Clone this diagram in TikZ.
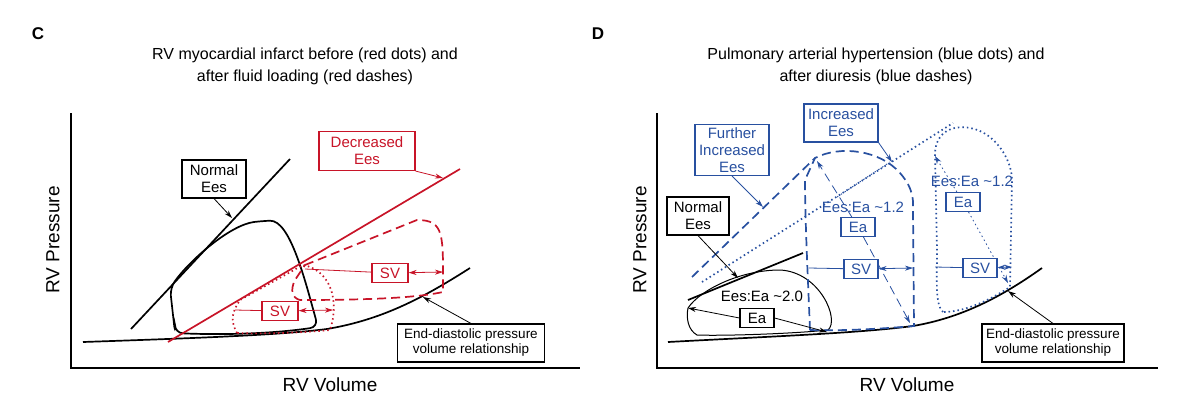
\documentclass[tikz,border=0pt]{standalone}
\usepackage{fontspec}
\setmainfont{Liberation Sans}
\usetikzlibrary{arrows.meta}
\definecolor{myred}{RGB}{200,20,40}
\definecolor{myblue}{RGB}{40,80,160}
\begin{document}
\begin{tikzpicture}[x=1pt,y=-1pt,
  box/.style={draw,line width=1.1pt,fill=white,align=center,font=\fontsize{15}{17}\selectfont,inner sep=1pt},
  rbox/.style={box,draw=myred,text=myred},
  bbox/.style={box,draw=myblue,text=myblue},
  sz/.style 2 args={minimum width=#1pt,minimum height=#2pt},
  lab/.style={font=\fontsize{15}{17}\selectfont},
  ttl/.style={font=\fontsize{16}{22}\selectfont,align=center},
  ax/.style={font=\fontsize{19}{20}\selectfont},
  main/.style={line width=1.7pt},
  ds/.style={dash pattern=on 9pt off 5pt},
  dt/.style={dash pattern=on 1.5pt off 3pt},
  arr/.style={-{Stealth[length=8pt,width=5pt]},line width=0.8pt},
  darr/.style={{Stealth[length=8pt,width=5pt]}-{Stealth[length=8pt,width=5pt]},line width=0.8pt}]
\useasboundingbox (0,0) rectangle (1200,405);
% ---------- panel C ----------
\node[font=\bfseries\fontsize{17}{18}\selectfont] (C) at (38,34) {C};
\node[ttl] (tc) at (305,66) {RV myocardial infarct before (red dots) and\\after fluid loading (red dashes)};
\draw[line width=1.2pt] (71,113) -- (71,368) -- (580,368);
\node[ax,rotate=90] (yc) at (53,240) {RV Pressure};
\node[ax] (xc) at (330,385) {RV Volume};
\draw[main] (83,342) .. controls (200,338) and (280,335) .. (327,329) .. controls (380,320) and (420,300) .. (470,268);
\draw[main] (131,329) -- (290,159);
\draw[main,rounded corners=8pt] (175,333) -- (170,288) .. controls (190,260) and (230,225) .. (262,221) .. controls (290,220) and (305,280) .. (318,327) .. controls (270,334) and (220,335) .. cycle;
\draw[main,myred] (168,342) -- (460,169);
\draw[main,myred,dt] (237,333) .. controls (230,320) and (232,312) .. (240,300) -- (303,265) .. controls (330,270) and (340,300) .. (330,330) .. controls (300,333) and (260,334) .. (237,333);
\draw[main,myred,ds] (305,265) -- (417,220) .. controls (445,220) and (443,235) .. (443,292) .. controls (420,297) and (380,300) .. (300,300) .. controls (292,298) and (290,290) .. (295,280) -- (305,265);
\node[rbox,sz={96}{39}] (dees) at (367,151) {Decreased\\Ees};
\draw[arr,myred] (dees.south east) -- (443,178);
\node[box,sz={64}{38}] (nees) at (214,179) {Normal\\Ees};
\draw[arr] (nees.south) -- (232,218);
\node[rbox,sz={36}{19}] (sv1) at (390,273) {SV};
\draw[darr,myred] (305,269) -- (sv1) -- (443,272);
\node[rbox,sz={36}{19}] (sv2) at (280,311) {SV};
\draw[darr,myred] (235,310) -- (sv2) -- (333,310);
\node[box,sz={147}{38},font=\fontsize{13.5}{15}\selectfont] (edc) at (471,343) {End-diastolic pressure\\volume relationship};
\draw[arr] (edc.north) -- (423,297);
% ---------- panel D ----------
\node[font=\bfseries\fontsize{17}{18}\selectfont] (D) at (598,34) {D};
\node[ttl] (td) at (876,66) {Pulmonary arterial hypertension (blue dots) and\\after diuresis (blue dashes)};
\draw[line width=1.2pt] (657,113) -- (657,368) -- (1158,368);
\node[ax,rotate=90] (yd) at (640,240) {RV Pressure};
\node[ax] (xd) at (907,385) {RV Volume};
\draw[main] (668,342) .. controls (780,336) and (860,333) .. (913,326) .. controls (960,318) and (1000,298) .. (1042,268);
\draw[main] (688,300) -- (803,253);
\draw[line width=1pt] (688,308) .. controls (700,290) and (740,270) .. (780,270) .. controls (820,272) and (840,320) .. (828,330) .. controls (790,334) and (720,336) .. (697,335) .. controls (688,330) and (686,318) .. (688,308);
\draw[main,myblue,ds] (692,277) -- (815,158);
\draw[main,myblue,dt] (702,282) -- (953,123);
\draw[main,myblue,ds] (810,330) .. controls (808,280) and (805,220) .. (805,180) -- (815,158) .. controls (840,145) and (880,150) .. (900,173) .. controls (915,190) and (913,203) .. (913,210) -- (914,326) .. controls (880,329) and (840,331) .. (810,330);
\draw[main,myblue,dt] (943,312) .. controls (935,305) and (937,280) .. (937,250) -- (935,155) .. controls (935,130) and (955,125) .. (970,128) .. controls (995,132) and (1012,160) .. (1012,180) -- (1010,287) .. controls (990,300) and (965,312) .. (943,312);
\node[bbox,sz={74}{51}] (fie) at (732,150) {Further\\Increased\\Ees};
\draw[arr,myblue] (fie.south) -- (763,207);
\node[bbox,sz={74}{38}] (ie) at (841,123) {Increased\\Ees};
\draw[arr,myblue] (ie.south east) -- (892,162);
\node[box,sz={62}{38}] (nd) at (698,216) {Normal\\Ees};
\draw[arr] (nd.south) -- (738,278);
\node[lab] (r1) at (762,296) {Ees:Ea \textasciitilde2.0};
\node[box,sz={34}{19}] (ea1) at (757,318) {Ea};
\draw[arr] (ea1.west) -- (688,308);
\draw[arr] (ea1.east) -- (827,332);
\node[lab,myblue] (r2) at (863,207) {Ees:Ea \textasciitilde1.2};
\node[bbox,sz={34}{19}] (ea2) at (858,227) {Ea};
\draw[arr,myblue,ds] (ea2) -- (817,161);
\draw[arr,myblue,ds] (ea2) -- (910,323);
\draw[line width=0.9pt,myblue,dt] (837,197) -- (890,162);
\node[lab,myblue] (r3) at (972,181) {Ees:Ea \textasciitilde1.2};
\node[bbox,sz={34}{19}] (ea3) at (963,202) {Ea};
\draw[arr,myblue,dt] (ea3) -- (935,156);
\draw[arr,myblue,dt] (ea3) -- (1008,283);
\node[bbox,sz={34}{19}] (sv3) at (861,269) {SV};
\draw[darr,myblue] (809,268) -- (sv3) -- (913,268);
\node[bbox,sz={34}{19}] (sv4) at (980,268) {SV};
\draw[darr,myblue] (935,267) -- (sv4) -- (1012,267);
\node[box,sz={142}{38},font=\fontsize{13.5}{15}\selectfont] (edd) at (1053,343) {End-diastolic pressure\\volume relationship};
\draw[arr] (edd.north) -- (1008,291);
\end{tikzpicture}
\end{document}
